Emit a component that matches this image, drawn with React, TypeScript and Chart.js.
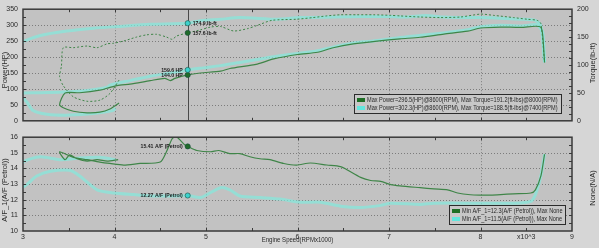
import { useEffect, useRef } from "react";
import { Chart, registerables } from "chart.js";

Chart.register(...registerables);

// ---------------- data (RPM in thousands) ----------------
const greenPowerRpm = [4.05, 3.95, 3.84, 3.70, 3.55, 3.44, 3.40, 3.46, 3.62, 3.84, 3.95, 4.06, 4.17, 4.39, 4.55, 4.61, 4.66, 4.80, 4.94, 5.16, 5.26, 5.56, 5.74, 6.00, 6.22, 6.39, 6.61, 6.87, 7.12, 7.34, 7.60, 7.86, 8.00, 8.22, 8.44, 8.60, 8.66, 8.68, 8.70];
const greenPowerHp = [56, 37, 27, 25, 30, 41, 51, 87, 88, 96, 105, 112, 115, 126, 133, 126, 133, 144, 150, 156, 164, 178, 194, 208, 215, 229, 241, 250, 257, 262, 272, 281, 291, 294, 293, 296.5, 293, 268, 183];

const greenTorqueRpm = [4.05, 3.95, 3.84, 3.70, 3.55, 3.44, 3.40, 3.42, 3.44, 3.55, 3.70, 3.81, 3.92, 3.99, 4.10, 4.24, 4.35, 4.46, 4.57, 4.63, 4.68, 4.80, 4.94, 5.05, 5.16, 5.30, 5.45, 5.56, 5.72, 5.99, 6.17, 6.32, 6.47, 6.65, 6.83, 7.02, 7.12, 7.34, 7.56, 7.78, 8.00, 8.14, 8.36, 8.51, 8.62, 8.66, 8.70];
const greenTorqueLbft = [73, 49, 37, 35, 43, 63, 79, 98, 131, 131, 134, 131, 138, 139, 143, 150, 154, 155, 150, 146, 152, 157.6, 163, 168, 169, 161, 165, 171, 180, 182, 185, 188, 190, 190, 190, 189, 188, 186, 185, 186, 191.2, 189, 185, 182, 180, 174, 105];

const cyanPowerRpm = [4.01, 3.98, 3.77, 3.51, 3.26, 3.11, 3.04, 2.95, 3.00, 3.19, 3.44, 3.70, 3.92, 3.95, 4.17, 4.39, 4.61, 4.80, 4.97, 5.16, 5.37, 5.59, 5.74, 6.00, 6.22, 6.39, 6.61, 6.83, 7.09, 7.49, 7.86, 8.00, 8.22, 8.44, 8.60, 8.63, 8.68, 8.70];
const cyanPowerHp = [39.5, 32, 22.6, 17.8, 20.6, 32, 60, 86, 87.5, 88, 90, 95, 105, 112, 126, 140, 150, 159.6, 166, 173, 183, 194, 201, 211, 220, 231, 244, 250, 260, 272, 286, 295, 300, 297, 302.3, 299, 277, 183];

const cyanTorqueRpm = [2.95, 3.00, 3.19, 3.48, 3.77, 4.03, 4.39, 4.80, 4.94, 5.16, 5.37, 5.78, 6.03, 6.39, 6.70, 7.00, 7.20, 7.40, 7.60, 7.86, 8.00, 8.22, 8.44, 8.60, 8.66, 8.70];
const cyanTorqueLbft = [135, 142, 153, 161, 166, 169, 173, 174.9, 179.5, 182, 185, 182, 185, 186, 187, 187, 186, 188.5, 186, 185, 185, 184, 182, 180, 170, 105];

const greenAfRpm = [4.04, 3.92, 3.81, 3.70, 3.59, 3.51, 3.46, 3.40, 3.55, 3.70, 3.84, 3.95, 4.10, 4.28, 4.50, 4.57, 4.63, 4.67, 4.72, 4.77, 4.80, 4.90, 5.05, 5.14, 5.26, 5.37, 5.48, 5.59, 5.70, 5.85, 5.99, 6.14, 6.32, 6.47, 6.54, 6.69, 6.80, 6.91, 7.02, 7.12, 7.34, 7.49, 7.64, 7.75, 7.89, 8.00, 8.11, 8.22, 8.36, 8.55, 8.60, 8.66, 8.70];
const greenAf = [14.56, 14.47, 14.56, 14.47, 14.62, 14.87, 14.56, 15.07, 14.71, 14.56, 14.41, 14.32, 14.22, 14.32, 14.41, 15.1, 15.9, 16.05, 15.8, 15.5, 15.41, 15.15, 15.07, 15.15, 14.95, 14.95, 14.75, 14.62, 14.56, 14.32, 14.22, 14.35, 14.22, 14.12, 13.92, 13.43, 13.23, 13.17, 12.97, 12.89, 12.77, 12.69, 12.63, 12.43, 12.32, 12.3, 12.3, 12.33, 12.38, 12.43, 12.63, 13.52, 14.91];

const cyanAfRpm = [4.01, 3.84, 3.62, 3.40, 3.19, 3.00, 2.95, 3.00, 3.15, 3.30, 3.51, 3.62, 3.81, 3.99, 4.21, 4.43, 4.68, 4.80, 4.94, 5.01, 5.16, 5.26, 5.37, 5.59, 5.81, 6.03, 6.25, 6.47, 6.69, 6.91, 7.02, 7.34, 7.49, 8.00, 8.36, 8.55, 8.60, 8.66, 8.70];
const cyanAf = [14.56, 14.71, 14.67, 14.56, 14.75, 14.4, 13.6, 12.83, 13.52, 13.82, 13.88, 13.52, 12.63, 12.43, 12.33, 12.24, 12.24, 12.27, 12.14, 12.33, 12.77, 12.63, 12.24, 12.14, 12.04, 11.84, 11.84, 11.59, 11.5, 11.64, 11.78, 11.70, 11.78, 11.78, 11.78, 11.90, 12.33, 13.52, 14.91];

const cursorRpm = 4.8;
const torqueMarkers = [174.9, 157.6];
const torqueMarkerLabels = ["174.9 lb-ft", "157.6 lb-ft"];
const powerMarkers = [159.6, 144.0];
const powerMarkerLabels = ["159.6 HP", "144.0 HP"];
const afMarkers = [15.41, 12.27];
const afMarkerLabels = ["15.41 A/F (Petrol)", "12.27 A/F (Petrol)"];

const topLegendLabels = [
  "Max Power=296.5(HP)@8600(RPM), Max Torque=191.2(ft-lbs)@8000(RPM)",
  "Max Power=302.3(HP)@8600(RPM), Max Torque=188.5(ft-lbs)@7400(RPM)",
];
const bottomLegendLabels = [
  "Min A/F_1=12.3(A/F (Petrol)), Max None",
  "Min A/F_1=11.5(A/F (Petrol)), Max None",
];

const xTitle = "Engine Speed(RPMx1000)";
const powerTitle = "Power(HP)";
const torqueTitle = "Torque(lb-ft)";
const afTitle = "A/F_1(A/F (Petrol))";
const noneTitle = "None(N/A)";

// ---------------- style ----------------
const FONT = '"Liberation Sans", Arial, sans-serif';
const TEXT = "#2a2a2a";
const PAGE_BG = "#d6d6d6";
const PLOT_BG = "#c2c2c2";
const GRID = "#7c7c7c";
const FRAME = "#3a3a3a";
const GREEN = "#3f8548";
const GREEN_DOT = "#1f6b29";
const GREEN_SWATCH = "#1d6e25";
const CYAN = "rgba(128, 236, 222, 0.68)";
const CYAN_DOT = "#3cd2cc";
const CYAN_SWATCH = "#62e6de";
const SQUEEZE = 0.86;

const pts = (xs: number[], ys: number[]) => xs.map((x, i) => ({ x, y: ys[i] }));

function line(ctx: CanvasRenderingContext2D, x1: number, y1: number, x2: number, y2: number) {
  ctx.beginPath();
  ctx.moveTo(x1, y1);
  ctx.lineTo(x2, y2);
  ctx.stroke();
}

function fillPlot(chart: any) {
  const { ctx, chartArea: a } = chart;
  ctx.save();
  ctx.fillStyle = PLOT_BG;
  ctx.fillRect(a.left, a.top, a.width, a.height);
  ctx.restore();
}

function grid(chart: any, yId: string, yVals: number[], xVals: number[]) {
  const { ctx, chartArea: a, scales } = chart;
  ctx.save();
  ctx.strokeStyle = GRID;
  ctx.lineWidth = 1;
  ctx.setLineDash([1, 2]);
  yVals.forEach((v) => {
    const y = Math.round(scales[yId].getPixelForValue(v)) + 0.5;
    line(ctx, a.left, y, a.right, y);
  });
  xVals.forEach((v) => {
    const x = Math.round(scales.x.getPixelForValue(v)) + 0.5;
    line(ctx, x, a.top, x, a.bottom);
  });
  ctx.restore();
}

function frameTicks(chart: any, leftId: string, leftMinor: number, rightId: string, rightMinor: number) {
  const { ctx, chartArea: a, scales } = chart;
  ctx.save();
  ctx.strokeStyle = FRAME;
  ctx.lineWidth = 1;
  for (let i = 1; i < 12; i++) {
    const x = Math.round(scales.x.getPixelForValue(3 + i * 0.5)) + 0.5;
    line(ctx, x, a.top, x, a.top + 3);
    line(ctx, x, a.bottom, x, a.bottom - 3);
  }
  const sl = scales[leftId];
  const nl = Math.round((sl.max - sl.min) / leftMinor);
  for (let i = 1; i < nl; i++) {
    const y = Math.round(sl.getPixelForValue(sl.min + i * leftMinor)) + 0.5;
    line(ctx, a.left, y, a.left + 3, y);
  }
  const sr = scales[rightId];
  const nr = Math.round((sr.max - sr.min) / rightMinor);
  for (let i = 1; i < nr; i++) {
    const y = Math.round(sr.getPixelForValue(sr.min + i * rightMinor)) + 0.5;
    line(ctx, a.right - 3, y, a.right, y);
  }
  ctx.lineWidth = 1.5;
  ctx.strokeRect(a.left, a.top, a.width, a.height);
  ctx.restore();
}

function vText(ctx: CanvasRenderingContext2D, text: string, x: number, y: number) {
  ctx.save();
  ctx.translate(x, y);
  ctx.rotate(-Math.PI / 2);
  ctx.font = `7.5px ${FONT}`;
  ctx.fillStyle = TEXT;
  ctx.textAlign = "center";
  ctx.textBaseline = "middle";
  ctx.fillText(text, 0, 0);
  ctx.restore();
}

function squeezedText(ctx: CanvasRenderingContext2D, text: string, x: number, y: number, align: "left" | "right" | "center") {
  ctx.save();
  ctx.translate(x, y);
  ctx.scale(SQUEEZE, 1);
  ctx.textAlign = align;
  ctx.textBaseline = "middle";
  ctx.fillText(text, 0, 0);
  ctx.restore();
}

function drawLegend(ctx: CanvasRenderingContext2D, right: number, bottom: number, labels: string[], colors: string[]) {
  ctx.save();
  ctx.font = `6.5px ${FONT}`;
  const tw = Math.max(...labels.map((l) => ctx.measureText(l).width)) * SQUEEZE;
  const rowH = 7.5;
  const w = Math.round(tw + 16);
  const h = Math.round(labels.length * rowH + 4);
  const left = Math.round(right - w);
  const top = Math.round(bottom - h);
  ctx.fillStyle = "#c8c8c8";
  ctx.fillRect(left, top, w, h);
  ctx.strokeStyle = "#2b2b2b";
  ctx.lineWidth = 1;
  ctx.strokeRect(left + 0.5, top + 0.5, w, h);
  labels.forEach((l, i) => {
    const cy = top + 2.5 + rowH * (i + 0.5);
    ctx.fillStyle = colors[i];
    ctx.fillRect(left + 3, Math.round(cy - 2), 8, 4);
    ctx.fillStyle = TEXT;
    squeezedText(ctx, l, left + 13, cy, "left");
  });
  ctx.restore();
}

function markerLabel(ctx: CanvasRenderingContext2D, text: string, x: number, y: number, side: "left" | "right") {
  ctx.save();
  ctx.font = `bold 6px ${FONT}`;
  ctx.fillStyle = "#202020";
  squeezedText(ctx, text, side === "right" ? x + 5 : x - 5, y, side === "right" ? "left" : "right");
  ctx.restore();
}

const topPlugin = {
  id: "topPanel",
  beforeDatasetsDraw(chart: any) {
    fillPlot(chart);
    grid(chart, "yP", [50, 100, 150, 200, 250, 300], [4, 5, 6, 7, 8]);
    const { ctx, chartArea: a, scales } = chart;
    ctx.save();
    ctx.strokeStyle = "#4a4a4a";
    ctx.lineWidth = 1;
    const x = Math.round(scales.x.getPixelForValue(cursorRpm)) + 0.5;
    line(ctx, x, a.top, x, a.bottom);
    ctx.restore();
  },
  afterDatasetsDraw(chart: any) {
    const { ctx, chartArea: a, scales } = chart;
    frameTicks(chart, "yP", 25, "yT", 12.5);
    const cx = scales.x.getPixelForValue(cursorRpm);
    torqueMarkers.forEach((v, i) => markerLabel(ctx, torqueMarkerLabels[i], cx, scales.yT.getPixelForValue(v), "right"));
    powerMarkers.forEach((v, i) => markerLabel(ctx, powerMarkerLabels[i], cx, scales.yP.getPixelForValue(v), "left"));
    drawLegend(ctx, a.right - 11, a.bottom - 8, topLegendLabels, [GREEN_SWATCH, CYAN_SWATCH]);
    vText(ctx, powerTitle, 5, 70);
    vText(ctx, torqueTitle, 593, 63);
  },
};

const bottomPlugin = {
  id: "bottomPanel",
  beforeDatasetsDraw(chart: any) {
    fillPlot(chart);
    grid(chart, "yA", [11, 12, 13, 14, 15], [4, 5, 6, 7, 8]);
  },
  afterDatasetsDraw(chart: any) {
    const { ctx, chartArea: a, scales } = chart;
    frameTicks(chart, "yA", 0.5, "yN", 0.5 / 6);
    const cx = scales.x.getPixelForValue(cursorRpm);
    afMarkers.forEach((v, i) => markerLabel(ctx, afMarkerLabels[i], cx, scales.yA.getPixelForValue(v), "left"));
    drawLegend(ctx, a.right - 7, a.bottom - 7, bottomLegendLabels, [GREEN_SWATCH, CYAN_SWATCH]);
    vText(ctx, afTitle, 5, 62);
    vText(ctx, noneTitle, 593, 60);
    ctx.save();
    ctx.font = `7px ${FONT}`;
    ctx.fillStyle = TEXT;
    squeezedText(ctx, xTitle, (a.left + a.right) / 2, 112, "center");
    ctx.restore();
  },
};

const tickFont = { family: FONT, size: 7 };

function lineDs(data: any, yAxisID: string, color: string, width: number, order: number, dash: number[] = []) {
  return {
    data,
    yAxisID,
    borderColor: color,
    borderWidth: width,
    borderDash: dash,
    pointRadius: 0,
    tension: 0.25,
    fill: false,
    order,
    clip: 0,
  };
}

function markerDs(x: number, y: number, yAxisID: string, color: string) {
  return {
    data: [{ x, y }],
    yAxisID,
    showLine: false,
    pointRadius: 2.6,
    pointBackgroundColor: color,
    pointBorderColor: "#1a4a40",
    pointBorderWidth: 0.6,
    order: 0,
  };
}

function topConfig(): any {
  return {
    type: "line",
    data: {
      datasets: [
        lineDs(pts(greenPowerRpm, greenPowerHp), "yP", GREEN, 1.2, 1),
        lineDs(pts(greenTorqueRpm, greenTorqueLbft), "yT", GREEN, 1, 1, [2, 2]),
        lineDs(pts(cyanPowerRpm, cyanPowerHp), "yP", CYAN, 3, 2),
        lineDs(pts(cyanTorqueRpm, cyanTorqueLbft), "yT", CYAN, 3, 2),
        markerDs(cursorRpm, torqueMarkers[0], "yT", CYAN_DOT),
        markerDs(cursorRpm, torqueMarkers[1], "yT", GREEN_DOT),
        markerDs(cursorRpm, powerMarkers[0], "yP", CYAN_DOT),
        markerDs(cursorRpm, powerMarkers[1], "yP", GREEN_DOT),
      ],
    },
    options: {
      animation: false,
      responsive: true,
      maintainAspectRatio: false,
      events: [],
      layout: { padding: { top: 4, bottom: 2, left: 0, right: 0 } },
      plugins: { legend: { display: false }, tooltip: { enabled: false } },
      scales: {
        x: { type: "linear", min: 3, max: 9, display: false },
        yP: {
          position: "left",
          min: 0,
          max: 350,
          ticks: { stepSize: 50, font: tickFont, color: TEXT, padding: 5 },
          grid: { display: false, drawTicks: false },
          border: { display: false },
          afterFit: (s: any) => { s.width = 23; },
        },
        yT: {
          position: "right",
          min: 0,
          max: 200,
          ticks: { stepSize: 50, font: tickFont, color: TEXT, padding: 5 },
          grid: { display: false, drawTicks: false },
          border: { display: false },
          afterFit: (s: any) => { s.width = 27; },
        },
      },
    },
    plugins: [topPlugin],
  };
}

function bottomConfig(): any {
  return {
    type: "line",
    data: {
      datasets: [
        lineDs(pts(greenAfRpm, greenAf), "yA", GREEN, 1.2, 1),
        lineDs(pts(cyanAfRpm, cyanAf), "yA", CYAN, 3, 2),
        markerDs(cursorRpm, afMarkers[0], "yA", GREEN_DOT),
        markerDs(cursorRpm, afMarkers[1], "yA", CYAN_DOT),
      ],
    },
    options: {
      animation: false,
      responsive: true,
      maintainAspectRatio: false,
      events: [],
      layout: { padding: { top: 2, bottom: 0, left: 0, right: 0 } },
      plugins: { legend: { display: false }, tooltip: { enabled: false } },
      scales: {
        x: {
          type: "linear",
          min: 3,
          max: 9,
          ticks: {
            stepSize: 0.5,
            autoSkip: false,
            maxRotation: 0,
            font: tickFont,
            color: TEXT,
            padding: 2,
            callback: (v: number) => (Math.abs(v - Math.round(v)) < 1e-6 ? String(Math.round(v)) : Math.abs(v - 8.5) < 1e-6 ? "x10^3" : ""),
          },
          grid: { display: false, drawTicks: false },
          border: { display: false },
          afterFit: (s: any) => { s.height = 17; },
        },
        yA: {
          position: "left",
          min: 10,
          max: 16,
          ticks: { stepSize: 1, font: tickFont, color: TEXT, padding: 5 },
          grid: { display: false, drawTicks: false },
          border: { display: false },
          afterFit: (s: any) => { s.width = 23; },
        },
        yN: {
          position: "right",
          min: 0,
          max: 1,
          ticks: { display: false },
          grid: { display: false, drawTicks: false },
          border: { display: false },
          afterFit: (s: any) => { s.width = 27; },
        },
      },
    },
    plugins: [bottomPlugin],
  };
}

export default function App() {
  const topRef = useRef<HTMLCanvasElement>(null);
  const botRef = useRef<HTMLCanvasElement>(null);
  useEffect(() => {
    const top = new Chart(topRef.current as HTMLCanvasElement, topConfig());
    const bot = new Chart(botRef.current as HTMLCanvasElement, bottomConfig());
    return () => {
      top.destroy();
      bot.destroy();
    };
  }, []);
  return (
    <div style={{ position: "fixed", left: 0, top: 0, width: 599, height: 248, background: PAGE_BG, overflow: "hidden" }}>
      <div style={{ position: "absolute", left: 0, top: 0, width: 599, height: 130 }}>
        <canvas ref={topRef} />
      </div>
      <div style={{ position: "absolute", left: 0, top: 128, width: 599, height: 120 }}>
        <canvas ref={botRef} />
      </div>
    </div>
  );
}
